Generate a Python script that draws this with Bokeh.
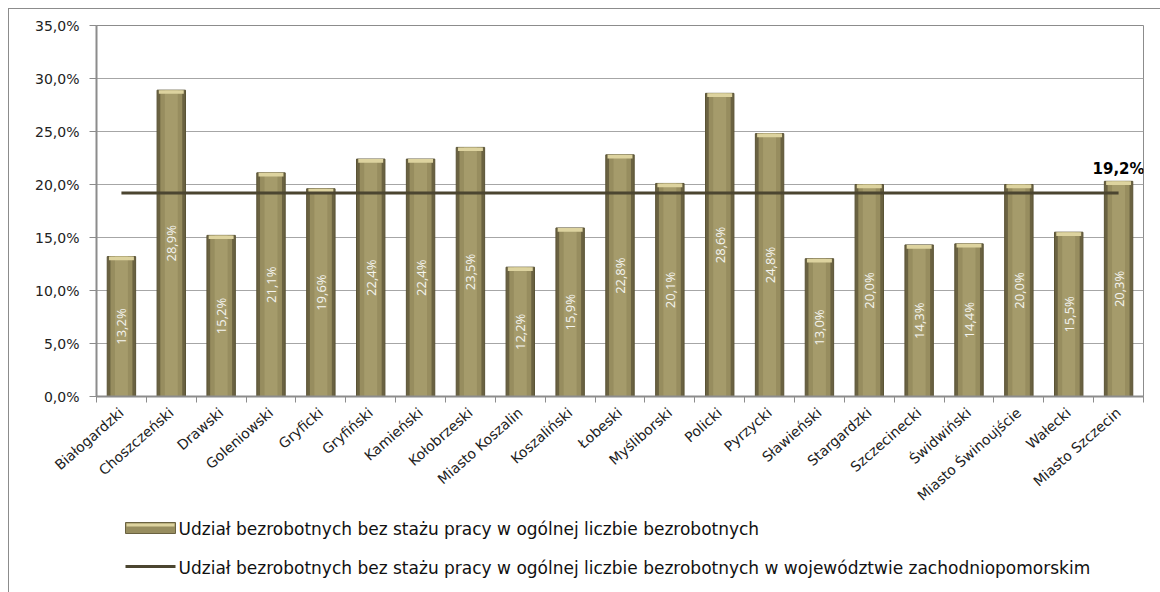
import math
from bokeh.plotting import figure
from bokeh.layouts import column
from bokeh.models import Range1d, FixedTicker, CustomJSTickFormatter, ColumnDataSource
from bokeh.core.properties import value
from bokeh.embed import file_html
from bokeh.resources import INLINE

categories = ["Białogardzki", "Choszczeński", "Drawski", "Goleniowski", "Gryficki", "Gryfiński",
              "Kamieński", "Kołobrzeski", "Miasto Koszalin", "Koszaliński", "Łobeski", "Myśliborski",
              "Policki", "Pyrzycki", "Sławieński", "Stargardzki", "Szczecinecki", "Świdwiński",
              "Miasto Świnoujście", "Wałecki", "Miasto Szczecin"]
shares = [13.2, 28.9, 15.2, 21.1, 19.6, 22.4, 22.4, 23.5, 12.2, 15.9, 22.8, 20.1,
          28.6, 24.8, 13.0, 20.0, 14.3, 14.4, 20.0, 15.5, 20.3]
region_avg = 19.2
y_ticks = [0, 5, 10, 15, 20, 25, 30, 35]
legend_bar = "Udział bezrobotnych bez stażu  pracy w ogólnej liczbie bezrobotnych"
legend_line = "Udział bezrobotnych bez stażu  pracy w ogólnej liczbie bezrobotnych w województwie  zachodniopomorskim"

n = len(categories)
xs = [i + 0.5 for i in range(n)]
labels = [("%.1f" % v).replace(".", ",") + "%" for v in shares]
src = ColumnDataSource(dict(x=xs, top=shares, half=[v / 2 for v in shares], lab=labels,
                            cap=[v - 0.35 for v in shares]))

BAR_DARK = "#6a6241"
BAR_MID = "#978d5f"
BAR_LIGHT = "#a59b6b"
BAR_CAP = "#ddd39f"
LINE_COL = "#4b4530"
GRID = "#a6a6a6"
AXIS = "#8c8c8c"

MB_L, MB_R = 87, 17

p = figure(width=1151, height=503, output_backend="svg", toolbar_location=None,
           x_range=Range1d(0, n), y_range=Range1d(0, 35),
           min_border_left=MB_L, min_border_right=MB_R, min_border_top=16, min_border_bottom=116)
p.outline_line_color = AXIS
p.background_fill_color = "white"
p.border_fill_color = "white"

# Bars (cylinder-like shading)
p.vbar(x="x", top="top", bottom=0, width=0.57, source=src,
       fill_color=BAR_DARK, line_color="#5a5335", line_width=1)
p.vbar(x="x", top="top", bottom=0, width=0.44, source=src, fill_color=BAR_MID, line_color=None)
p.vbar(x="x", top="top", bottom=0, width=0.26, source=src, fill_color=BAR_LIGHT, line_color=None)
p.vbar(x="x", top="top", bottom="cap", width=0.5, source=src, fill_color=BAR_CAP, line_color=None)

# Bar value labels
p.text(x="x", y="half", text="lab", source=src, angle=math.pi / 2, text_align="center",
       text_baseline="middle", text_color="#f4f4f0", text_font=value("Open Sans"),
       text_font_size="13px")

# Regional average line
p.line(x=[xs[0], xs[-1]], y=[region_avg, region_avg], line_color=LINE_COL, line_width=3)
p.text(x=[xs[-1]], y=[region_avg], text=[("%.1f" % region_avg).replace(".", ",") + "%"],
       text_align="center", text_baseline="bottom", y_offset=-15,
       text_font=value("DejaVu Sans"), text_font_style="bold", text_font_size="15px",
       text_color="black")

# Axes
p.yaxis.ticker = FixedTicker(ticks=y_ticks)
p.yaxis.formatter = CustomJSTickFormatter(code="return tick.toFixed(1).replace('.', ',') + '%';")
p.yaxis.major_label_text_font = "DejaVu Sans"
p.yaxis.major_label_text_font_size = "14px"
p.yaxis.major_label_text_color = "#222222"
p.yaxis.axis_line_color = AXIS
p.yaxis.axis_line_width = 2
p.yaxis.major_tick_line_color = AXIS
p.yaxis.major_tick_out = 7
p.yaxis.major_tick_in = 0
p.yaxis.minor_tick_line_color = None
p.yaxis.major_label_standoff = 10

p.xaxis.ticker = FixedTicker(ticks=xs, minor_ticks=list(range(n + 1)))
p.xaxis.formatter = CustomJSTickFormatter(args=dict(names=categories),
                                          code="return names[Math.floor(tick)];")
p.xaxis.major_label_orientation = 0.72
p.xaxis.major_label_text_font = "DejaVu Sans"
p.xaxis.major_label_text_font_size = "14px"
p.xaxis.major_label_text_color = "#222222"
p.xaxis.axis_line_color = AXIS
p.xaxis.axis_line_width = 2
p.xaxis.major_tick_line_color = None
p.xaxis.minor_tick_line_color = AXIS
p.xaxis.minor_tick_out = 6
p.xaxis.minor_tick_in = 0
p.xaxis.major_label_standoff = 8

p.xgrid.grid_line_color = None
p.ygrid.ticker = FixedTicker(ticks=y_ticks)
p.ygrid.grid_line_color = GRID
p.ygrid.grid_line_width = 1

# Legend panel (frame aligned with the chart; coordinates are page pixels)
leg = figure(width=1151, height=80, output_backend="svg", toolbar_location=None,
             x_range=Range1d(96, 1143), y_range=Range1d(592, 512),
             min_border_left=MB_L, min_border_right=MB_R, min_border_top=0, min_border_bottom=0)
leg.axis.visible = False
leg.grid.visible = False
leg.outline_line_color = None
leg.background_fill_color = "white"
leg.border_fill_color = "white"

leg.quad(left=[125], right=[175], top=[522], bottom=[533], fill_color=BAR_MID,
         line_color=BAR_DARK, line_width=1)
leg.quad(left=[126], right=[174], top=[523], bottom=[526], fill_color=BAR_CAP, line_color=None)
leg.line(x=[125, 175], y=[566, 566], line_color=LINE_COL, line_width=3)
leg.text(x=[178, 178], y=[528, 567], text=[legend_bar, legend_line], text_align="left",
         text_baseline="middle", text_font=value("DejaVu Sans"), text_font_size="17px",
         text_color="#111111")

layout = column(p, leg, spacing=0,
                styles={"margin-left": "8px", "margin-top": "8px",
                        "border-left": "1px solid #8c8c8c", "border-top": "1px solid #8c8c8c"})

open("out.html", "w").write(file_html(layout, INLINE))
